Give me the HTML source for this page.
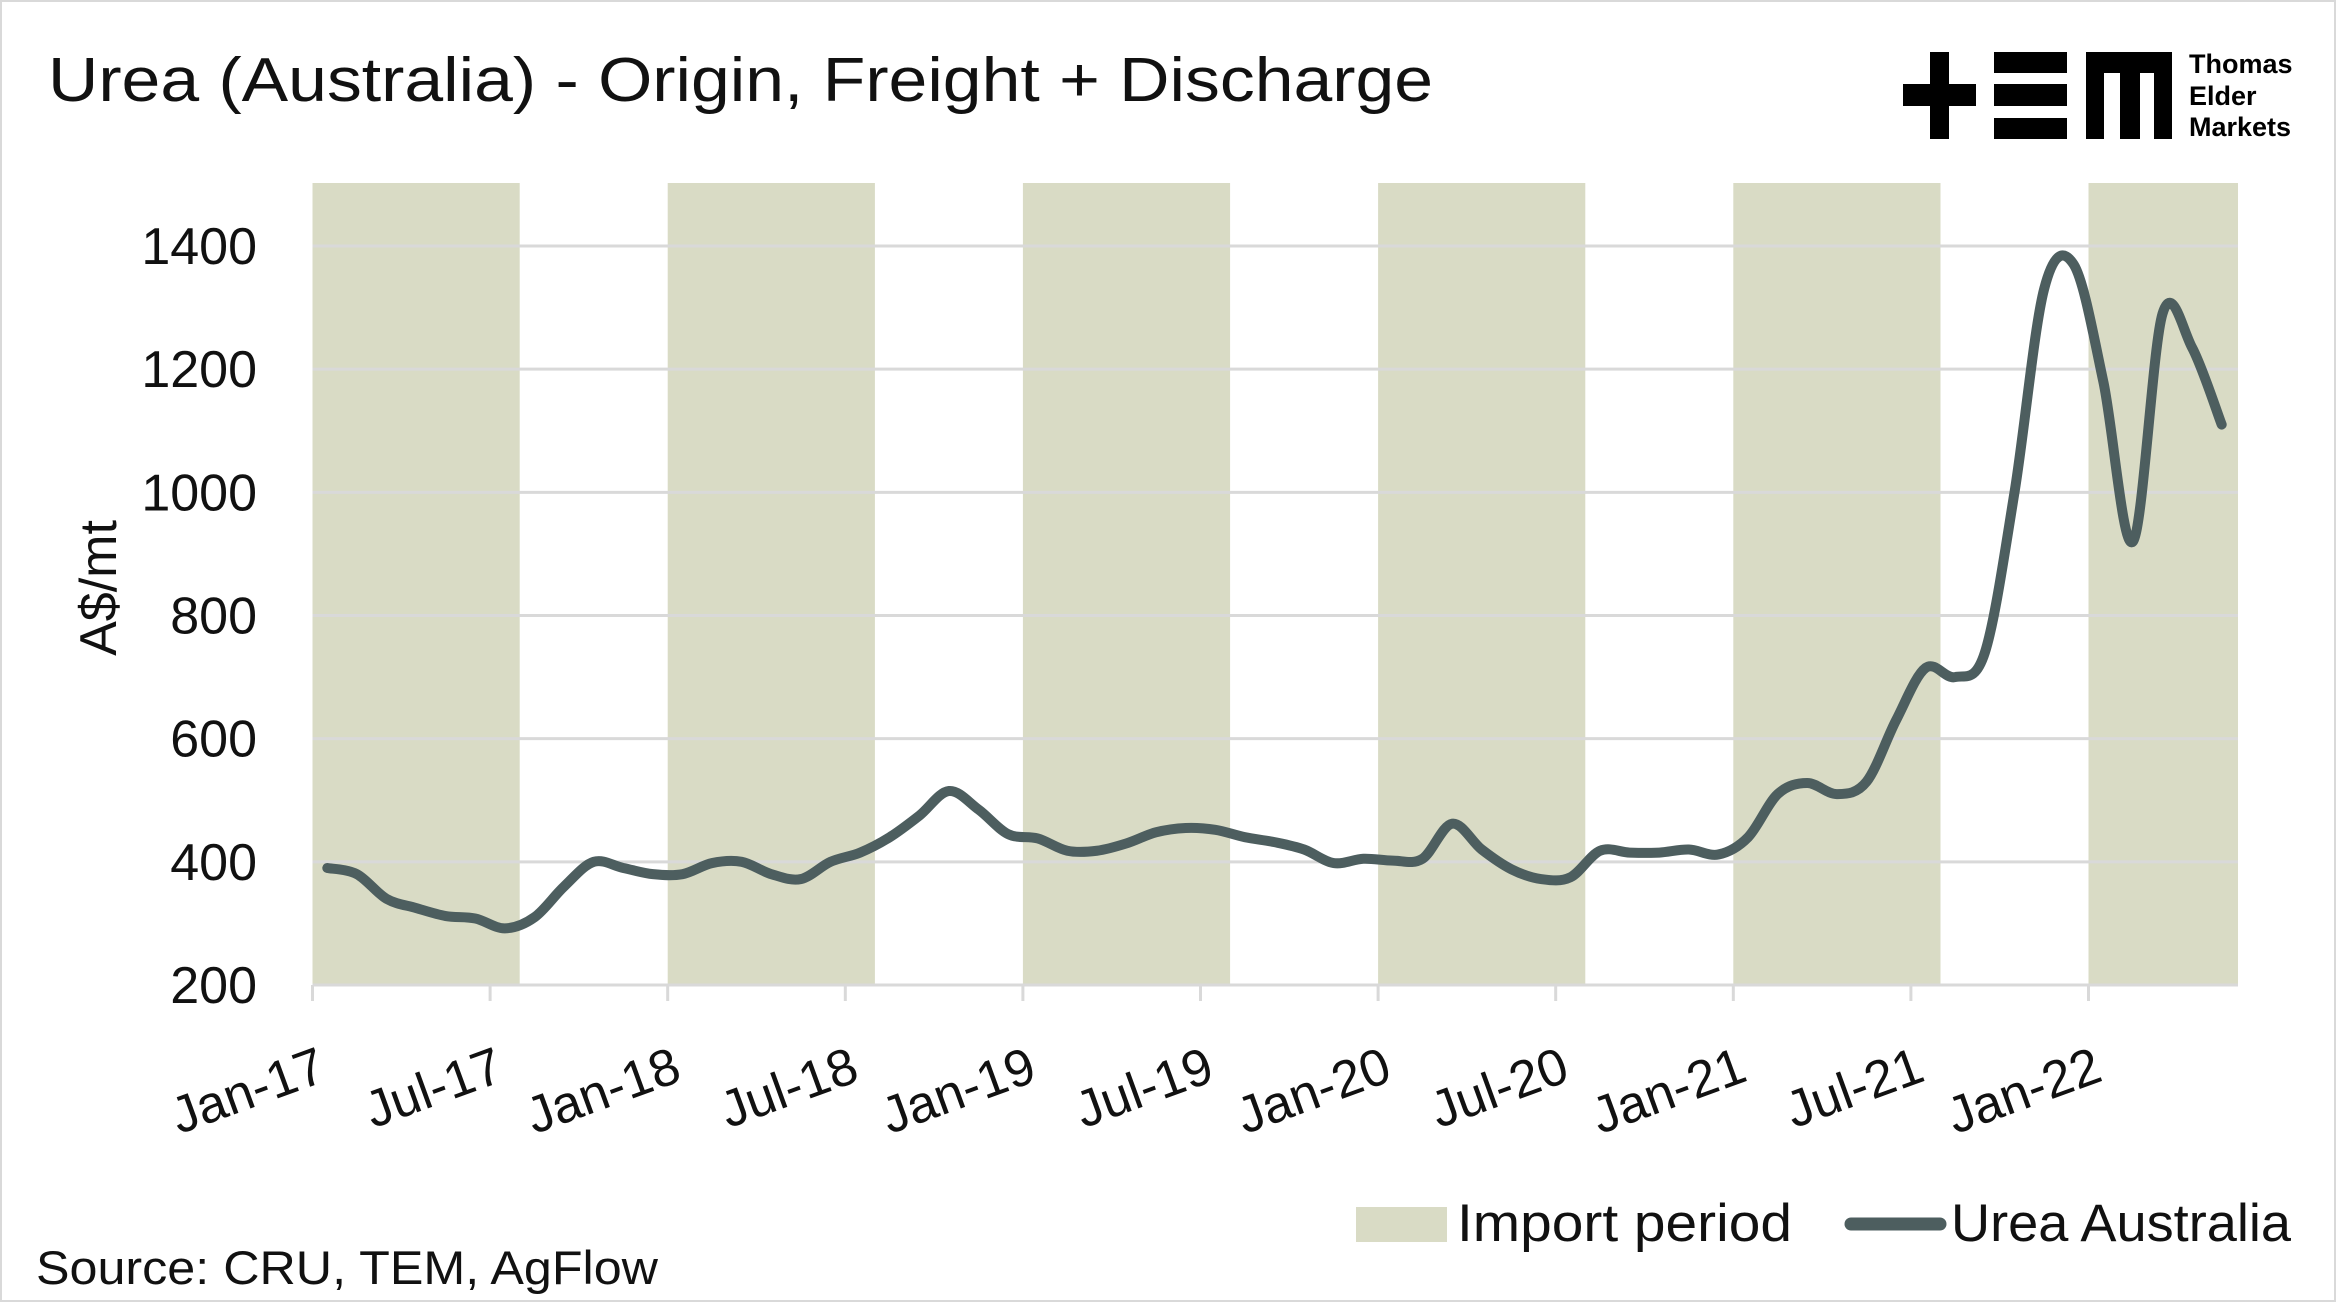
<!DOCTYPE html>
<html><head><meta charset="utf-8"><style>
html,body{margin:0;padding:0;background:#fff}
svg{display:block;font-family:"Liberation Sans",sans-serif}
</style></head><body>
<svg width="2336" height="1302" viewBox="0 0 2336 1302">
<rect x="1" y="1" width="2334" height="1300" fill="#fff" stroke="#d9d9d9" stroke-width="2"/>
<text x="48" y="101" font-size="62" fill="#111" textLength="1385" lengthAdjust="spacingAndGlyphs">Urea (Australia) - Origin, Freight + Discharge</text>
<g fill="#000">
<rect x="1930" y="52" width="19" height="87"/><rect x="1903" y="84" width="73" height="22"/>
<rect x="1994" y="52" width="73" height="21"/><rect x="1994" y="84" width="73" height="22"/><rect x="1994" y="118" width="73" height="21"/>
<rect x="2086" y="52" width="86" height="21"/><rect x="2086" y="52" width="18" height="87"/><rect x="2120" y="52" width="20" height="87"/><rect x="2154" y="52" width="18" height="87"/>
<text x="2189" y="73" font-size="27" font-weight="bold">Thomas</text>
<text x="2189" y="105" font-size="27" font-weight="bold">Elder</text>
<text x="2189" y="136" font-size="27" font-weight="bold">Markets</text>
</g>
<g id="bands"></g><g id="grid"></g><g id="axes"></g>
<path id="line" fill="none" stroke="#4d5e5f" stroke-width="10" stroke-linecap="round" stroke-linejoin="round"/>
<text transform="translate(116,588) rotate(-90)" text-anchor="middle" font-size="52" fill="#111">A$/mt</text>
<rect x="1356" y="1207" width="91" height="35" fill="#d9dbc5"/>
<text x="1457" y="1241" font-size="53" fill="#111" textLength="335" lengthAdjust="spacingAndGlyphs">Import period</text>
<line x1="1851" y1="1224" x2="1940" y2="1224" stroke="#4d5e5f" stroke-width="13" stroke-linecap="round"/>
<text x="1951" y="1241" font-size="53" fill="#111" textLength="340" lengthAdjust="spacingAndGlyphs">Urea Australia</text>
<text x="36" y="1284" font-size="47" fill="#111" textLength="622" lengthAdjust="spacingAndGlyphs">Source: CRU, TEM, AgFlow</text>
</svg>
<script>
const yTicks=[200,400,600,800,1000,1200,1400];
const xTickLabels=["Jan-17","Jul-17","Jan-18","Jul-18","Jan-19","Jul-19","Jan-20","Jul-20","Jan-21","Jul-21","Jan-22"];
const bandYears=[2017,2018,2019,2020,2021,2022];
const values=[390,380,340,325,312,308,292,310,360,400,390,380,
380,398,400,380,372,400,415,440,475,515,485,445,
438,418,418,430,448,455,452,440,432,420,398,405,
402,405,462,420,388,372,375,418,415,415,420,412,
440,510,528,510,530,630,715,700,740,1000,1330,1370,
1180,920,1290,1235,1110];
const NS="http://www.w3.org/2000/svg";
const x0=312.5,mw=29.6,plotR=2238,yT=183,yB=985,yTop=246;
function xM(m){return x0+m*mw;}
function yV(v){return yB-(v-200)*(yB-yTop)/1200;}
function mk(t,a,p){const e=document.createElementNS(NS,t);for(const k in a)e.setAttribute(k,a[k]);p.appendChild(e);return e;}
const bands=document.getElementById('bands');
bandYears.forEach(y=>{const s=xM((y-2017)*12);const e=Math.min(xM((y-2017)*12+7),plotR);
const r=mk('rect',{x:s,y:yT,width:e-s,height:yB-yT,fill:'#d9dbc5'},bands);

});
const grid=document.getElementById('grid');
const axes=document.getElementById('axes');
yTicks.forEach(v=>{const l=mk('line',{x1:x0,x2:plotR,y1:yV(v),y2:yV(v),stroke:'#d9d9d9','stroke-width':3},grid);


const t=mk('text',{x:257,y:yV(v)+18,'text-anchor':'end','font-size':52,fill:'#111'},axes);t.textContent=v;

});
xTickLabels.forEach((lab,i)=>{const x=xM(i*6);
const l=mk('line',{x1:x,x2:x,y1:yB,y2:yB+16,stroke:'#d9d9d9','stroke-width':3},axes);


const t=mk('text',{transform:`translate(${x+16},${yB+95}) rotate(-20)`,'text-anchor':'end','font-size':52,fill:'#111'},axes);t.textContent=lab;

});
const pts=values.map((v,i)=>[xM(i+0.5),yV(v)]);
let d='M'+pts[0][0]+','+pts[0][1];
for(let i=0;i<pts.length-1;i++){const p0=pts[Math.max(0,i-1)],p1=pts[i],p2=pts[i+1],p3=pts[Math.min(pts.length-1,i+2)];
const c1=[p1[0]+(p2[0]-p0[0])/6,p1[1]+(p2[1]-p0[1])/6],c2=[p2[0]-(p3[0]-p1[0])/6,p2[1]-(p3[1]-p1[1])/6];
d+=`C${c1[0]},${c1[1]} ${c2[0]},${c2[1]} ${p2[0]},${p2[1]}`;}
document.getElementById('line').setAttribute('d',d);
</script>
</body></html>
